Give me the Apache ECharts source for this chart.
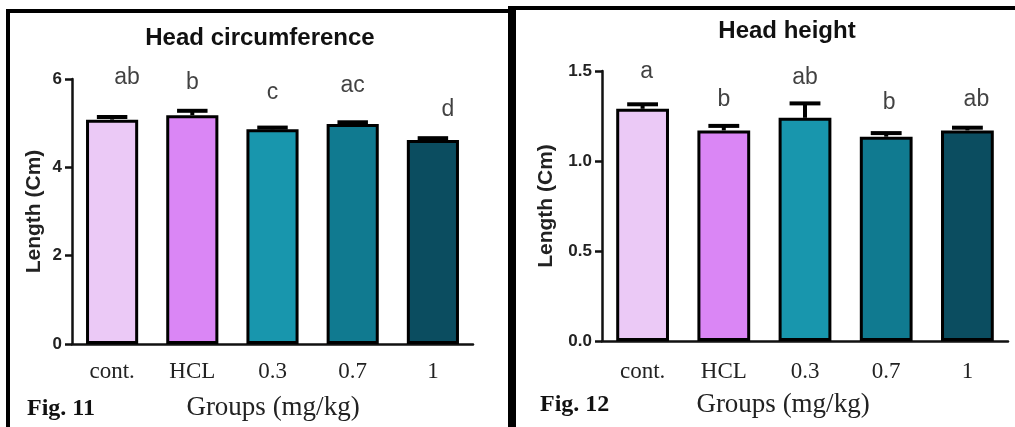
<!DOCTYPE html>
<html>
<head>
<meta charset="utf-8">
<script src="https://cdn.jsdelivr.net/npm/echarts@6/dist/echarts.min.js"></script>
<style>
html,body{margin:0;padding:0;background:#fff;}
#chart{width:1015px;height:427px;}
</style>
</head>
<body>
<div id="chart"></div>
<script>
// ---- Data ----
const categories = ['cont.', 'HCL', '0.3', '0.7', '1'];
const barColors = ['#EBC9F6', '#DA86F5', '#1896AD', '#107A90', '#0B4D60'];

const circMean = [5.08, 5.18, 4.86, 4.98, 4.62];
const circErr = [0.06, 0.10, 0.04, 0.04, 0.04];
const circLetters = ['ab', 'b', 'c', 'ac', 'd'];
const circLetterY = [6.02, 5.91, 5.68, 5.86, 5.30];
const circTicks = [0, 2, 4, 6];

const heightMean = [1.29, 1.17, 1.24, 1.135, 1.17];
const heightErr = [0.025, 0.025, 0.08, 0.02, 0.015];
const heightLetters = ['a', 'b', 'ab', 'b', 'ab'];
const heightLetterY = [1.496, 1.339, 1.461, 1.322, 1.339];
const heightTicks = [0.0, 0.5, 1.0, 1.5];

// ---- Styling helpers ----
const SANS = '"Liberation Sans", Arial, sans-serif';
const SERIF = '"Liberation Serif", "Times New Roman", serif';
const leftLetterDx = [15, 0, 0, 0, 15];
const rightLetterDx = [4, 0, 0, 3, 9];

function barSeries(idx, values) {
  return {
    type: 'bar', xAxisIndex: idx, yAxisIndex: idx,
    barWidth: '65%',
    data: values.map((v, i) => ({
      value: v,
      itemStyle: { color: barColors[i], borderColor: '#000', borderWidth: 3 }
    })),
    z: 2
  };
}
function errSeries(idx, means, errs) {
  return {
    type: 'custom', xAxisIndex: idx, yAxisIndex: idx, z: 3,
    data: means.map((m, i) => [i, m, m + errs[i]]),
    renderItem: function (params, api) {
      const base = api.coord([api.value(0), api.value(1)]);
      const top = api.coord([api.value(0), api.value(2)]);
      const hw = api.size([1, 0])[0] * 0.19;
      const st = { stroke: '#000', lineWidth: 4 };
      return { type: 'group', children: [
        { type: 'line', shape: { x1: base[0], y1: base[1], x2: top[0], y2: top[1] }, style: st },
        { type: 'line', shape: { x1: top[0] - hw, y1: top[1], x2: top[0] + hw, y2: top[1] }, style: st }
      ]};
    }
  };
}
function letterSeries(idx, letters, ys, dx) {
  return {
    type: 'scatter', xAxisIndex: idx, yAxisIndex: idx, symbolSize: 0, z: 4, clip: false,
    data: letters.map((l, i) => ({
      value: [i, ys[i]],
      label: { show: true, position: 'inside', formatter: l, offset: [dx[i], 0],
        fontFamily: SANS, fontSize: 23, color: '#111' }
    })),
    silent: true
  };
}
function xAxisCfg(idx) {
  return {
    type: 'category', gridIndex: idx, data: categories,
    axisLine: { lineStyle: { color: '#111', width: 2.5 } },
    axisTick: { alignWithLabel: true, length: 7, lineStyle: { color: '#111', width: 2.5 } },
    axisLabel: { fontFamily: SERIF, fontSize: 23, color: '#222', margin: idx === 0 ? 16 : 19 },
    splitLine: { show: false }
  };
}
function yAxisCfg(idx, ticks, gap, digits) {
  return {
    type: 'value', gridIndex: idx,
    min: ticks[0], max: ticks[ticks.length - 1], interval: ticks[1] - ticks[0],
    axisLine: { show: true, lineStyle: { color: '#111', width: 2.5 } },
    axisTick: { show: true, length: 7, lineStyle: { color: '#111', width: 2.5 } },
    axisLabel: { fontFamily: SANS, fontWeight: 'bold', fontSize: 17, color: '#222', margin: 10,
      formatter: v => v.toFixed(digits) },
    splitLine: { show: false },
    name: 'Length (Cm)', nameLocation: 'middle', nameRotate: 90, nameGap: gap,
    nameTextStyle: { fontFamily: SANS, fontWeight: 'bold', fontSize: 21, color: '#222' }
  };
}

const chart = echarts.init(document.getElementById('chart'), null, { renderer: 'canvas' });
chart.setOption({
  backgroundColor: '#fff',
  animation: false,
  grid: [
    { left: 72, right: 542, top: 79, bottom: 83 },
    { left: 602, right: 7, top: 71, bottom: 86 }
  ],
  xAxis: [xAxisCfg(0), xAxisCfg(1)],
  yAxis: [yAxisCfg(0, circTicks, 27, 0), yAxisCfg(1, heightTicks, 45, 1)],
  series: [
    barSeries(0, circMean), errSeries(0, circMean, circErr), letterSeries(0, circLetters, circLetterY, leftLetterDx),
    barSeries(1, heightMean), errSeries(1, heightMean, heightErr), letterSeries(1, heightLetters, heightLetterY, rightLetterDx)
  ],
  graphic: [
    // frames
    { type: 'rect', shape: { x: 6, y: 9, width: 504, height: 4 }, style: { fill: '#000' } },
    { type: 'rect', shape: { x: 6, y: 9, width: 4, height: 418 }, style: { fill: '#000' } },
    { type: 'rect', shape: { x: 508, y: 6, width: 8, height: 421 }, style: { fill: '#000' } },
    { type: 'rect', shape: { x: 512, y: 6, width: 503, height: 4 }, style: { fill: '#000' } },
    // titles
    { type: 'text', x: 260, y: 38, style: { text: 'Head circumference', fontFamily: SANS, fontWeight: 'bold', fontSize: 24, fill: '#111', align: 'center', verticalAlign: 'middle' } },
    { type: 'text', x: 787, y: 31, style: { text: 'Head height', fontFamily: SANS, fontWeight: 'bold', fontSize: 24, fill: '#111', align: 'center', verticalAlign: 'middle' } },
    // x axis names
    { type: 'text', x: 273, y: 408, style: { text: 'Groups (mg/kg)', fontFamily: SERIF, fontSize: 27, fill: '#222', align: 'center', verticalAlign: 'middle' } },
    { type: 'text', x: 783, y: 405, style: { text: 'Groups (mg/kg)', fontFamily: SERIF, fontSize: 27, fill: '#222', align: 'center', verticalAlign: 'middle' } },
    // figure labels
    { type: 'text', x: 27, y: 409, style: { text: 'Fig. 11', fontFamily: SERIF, fontWeight: 'bold', fontSize: 24, fill: '#111', align: 'left', verticalAlign: 'middle' } },
    { type: 'text', x: 540, y: 405, style: { text: 'Fig. 12', fontFamily: SERIF, fontWeight: 'bold', fontSize: 24, fill: '#111', align: 'left', verticalAlign: 'middle' } }
  ]
});
</script>
</body>
</html>
